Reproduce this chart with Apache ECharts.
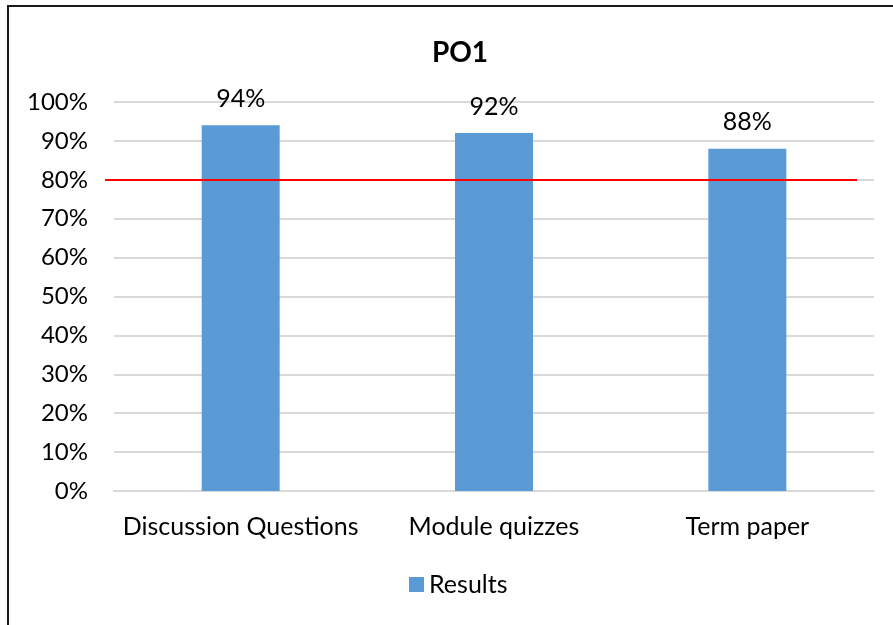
<!DOCTYPE html>
<html>
<head>
<meta charset="utf-8">
<script src="https://cdn.jsdelivr.net/npm/echarts@6/dist/echarts.min.js"></script>
<style>
  html, body { margin: 0; padding: 0; background: #fff; overflow: hidden; }
  #chart { position: absolute; left: 0; top: 0; width: 893px; height: 625px; }
  .frame {
    position: absolute; left: 7px; top: 5px; width: 1000px; height: 800px;
    border: 2px solid #1a1a1a; pointer-events: none;
  }
</style>
</head>
<body>
<div id="chart"></div>
<div class="frame"></div>
<script>
  // data
  var categories = ['Discussion Questions', 'Module quizzes', 'Term paper']
  var results = [0.94, 0.92, 0.88]
  var target = 0.8
  var yTicks = { min: 0, max: 1, interval: 0.1 }

  var font = 'Lato, "Open Sans", sans-serif'
  var pct = function (v) { return Math.round(v * 100) + '%' }

  var chart = echarts.init(document.getElementById('chart'))
  chart.setOption({
    animation: false,
    title: {
      text: 'PO1',
      left: 455,
      textAlign: 'center',
      top: 34,
      textStyle: { fontFamily: font, fontSize: 28, fontWeight: 'bold', color: '#000' }
    },
    legend: {
      data: ['Results'],
      left: 409,
      top: 572,
      padding: 0,
      icon: 'rect',
      itemWidth: 15,
      itemHeight: 15,
      itemGap: 8,
      textStyle: { fontFamily: font, fontSize: 25, color: '#000' }
    },
    grid: [
      { left: 114, right: 19, top: 102, bottom: 134 },
      { left: 105, right: 36, top: 102, bottom: 134 }
    ],
    xAxis: [
      {
        type: 'category',
        gridIndex: 0,
        data: categories,
        axisLine: { lineStyle: { color: '#d9d9d9', width: 2 } },
        axisTick: { show: false },
        axisLabel: { interval: 0, hideOverlap: false, margin: 23, fontFamily: font, fontSize: 25, color: '#000' }
      },
      { type: 'value', gridIndex: 1, show: false, min: 0, max: 1 }
    ],
    yAxis: [
      {
        type: 'value',
        gridIndex: 0,
        min: yTicks.min,
        max: yTicks.max,
        interval: yTicks.interval,
        axisLine: { show: false },
        axisTick: { show: false },
        splitLine: { lineStyle: { color: '#d9d9d9', width: 2 } },
        axisLabel: { margin: 26, fontFamily: font, fontSize: 24, color: '#000', formatter: pct }
      },
      { type: 'value', gridIndex: 1, show: false, min: yTicks.min, max: yTicks.max }
    ],
    series: [
      {
        name: 'Results',
        type: 'bar',
        xAxisIndex: 0,
        yAxisIndex: 0,
        data: results,
        barWidth: 78,
        itemStyle: { color: '#5b9bd5' },
        label: {
          show: true,
          position: 'top',
          distance: 14,
          fontFamily: font,
          fontSize: 25,
          color: '#000',
          formatter: function (p) { return pct(p.value) }
        }
      },
      {
        name: 'target',
        type: 'line',
        xAxisIndex: 1,
        yAxisIndex: 1,
        data: [],
        markLine: {
          silent: true,
          symbol: 'none',
          label: { show: false },
          lineStyle: { color: '#ff0000', width: 2, type: 'solid' },
          data: [{ yAxis: target }]
        }
      }
    ]
  })
</script>
</body>
</html>
